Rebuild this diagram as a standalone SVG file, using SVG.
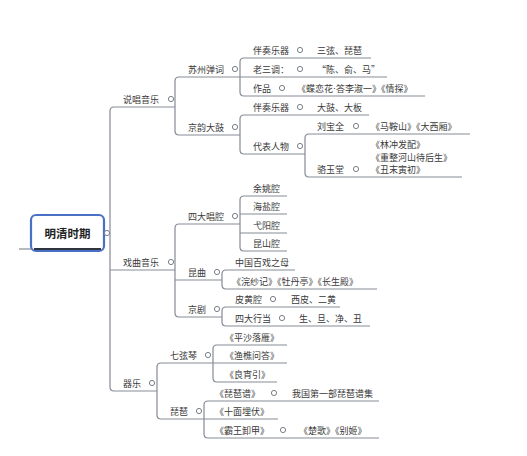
<svg xmlns="http://www.w3.org/2000/svg" width="527" height="456" viewBox="0 0 527 456">
<style>
.t{font-family:"Noto Sans CJK SC","Noto Sans",sans-serif;font-size:9px;fill:#3a3a3a;dominant-baseline:central}
.r{font-family:"Noto Sans CJK SC","Noto Sans",sans-serif;font-size:11.5px;font-weight:bold;fill:#222;dominant-baseline:central;text-anchor:middle}
.c{fill:#fff;stroke:#7a7f88;stroke-width:1}
.l{fill:none;stroke:#858b96;stroke-width:1.2}
.dot{font-family:"Liberation Sans",sans-serif}
</style>
<rect width="527" height="456" fill="#fff"/>
<g id="connectors" class="l">
<path d="M19,249 H31"/>
<path d="M110,111 Q110,107 114,107 H175 M110,270 H175 M110,387 Q110,391 114,391 H157 M110,111 V387"/>
<path d="M175,81 Q175,77 179,77 H240 M175,131 Q175,135 179,135 H240 M175,81 V131"/>
<path d="M240,62 Q240,58 244,58 H371 M240,77 H387 M240,92 Q240,96 244,96 H425 M240,62 V92"/>
<path d="M240,119 Q240,115 244,115 H369 M240,150 Q240,154 244,154 H305 M240,119 V150"/>
<path d="M305,138 Q305,134 309,134 H470 M305,173 Q305,177 309,177 H462 M305,138 V173"/>
<path d="M175,228 Q175,224 179,224 H240 M175,280 H222 M175,313 Q175,317 179,317 H222 M175,228 V313"/>
<path d="M240,200 Q240,196 244,196 H287 M240,214 H287 M240,233 H287 M240,247 Q240,251 244,251 H287 M240,200 V247"/>
<path d="M222,274 Q222,270 226,270 H295 M222,285 Q222,289 226,289 H377 M222,274 V285"/>
<path d="M222,311 Q222,307 226,307 H340 M222,322 Q222,326 226,326 H370 M222,311 V322"/>
<path d="M157,367 Q157,363 161,363 H213 M157,415 Q157,419 161,419 H204 M157,367 V415"/>
<path d="M213,349 Q213,345 217,345 H287 M213,363 H287 M213,378 Q213,382 217,382 H277 M213,349 V378"/>
<path d="M204,405 Q204,401 208,401 H379 M204,419 H278 M204,434 Q204,438 208,438 H379 M204,405 V434"/>
</g>
<g id="root">
<rect x="31" y="215" width="73" height="36" rx="5" fill="#fff" stroke="#4a70c6" stroke-width="2.2"/>
<path d="M34,249 H101" stroke="#2e3440" stroke-width="2"/>
<text class="r" x="67.5" y="233">明清时期</text>
<circle class="c" cx="107" cy="233" r="2.6"/>
</g>
<g id="shuochang"><text class="t" x="123" y="99">说唱音乐</text><circle class="c" cx="171" cy="99" r="2.6"/></g>
<g id="xiqu"><text class="t" x="123" y="262">戏曲音乐</text><circle class="c" cx="171" cy="262" r="2.6"/></g>
<g id="qiyue"><text class="t" x="123" y="383">器乐</text><circle class="c" cx="152" cy="383" r="2.6"/></g>
<g id="suzhou"><text class="t" x="188" y="69">苏州弹词</text><circle class="c" cx="235" cy="69" r="2.6"/></g>
<g id="jingyun"><text class="t" x="188" y="127">京韵大鼓</text><circle class="c" cx="235" cy="127" r="2.6"/></g>
<g id="sida"><text class="t" x="188" y="216">四大唱腔</text><circle class="c" cx="235" cy="216" r="2.6"/></g>
<g id="kunqu"><text class="t" x="188" y="272">昆曲</text><circle class="c" cx="217" cy="272" r="2.6"/></g>
<g id="jingju"><text class="t" x="188" y="309">京剧</text><circle class="c" cx="217" cy="309" r="2.6"/></g>
<g id="qixian"><text class="t" x="170" y="355">七弦琴</text><circle class="c" cx="208" cy="355" r="2.6"/></g>
<g id="pipa"><text class="t" x="170" y="411">琵琶</text><circle class="c" cx="199" cy="411" r="2.6"/></g>
<g id="s_banzou"><text class="t" x="253" y="50">伴奏乐器</text><circle class="c" cx="300" cy="50" r="2.6"/></g>
<g id="s_banzou_v"><text class="t" x="317" y="50">三弦、琵琶</text></g>
<g id="s_laosan"><text class="t" x="253" y="69">老三调：</text><circle class="c" cx="300" cy="69" r="2.6"/></g>
<g id="s_laosan_v"><text class="t" x="317" y="69">“陈、俞、马”</text></g>
<g id="s_zuopin"><text class="t" x="253" y="88">作品</text><circle class="c" cx="282" cy="88" r="2.6"/></g>
<g id="s_zuopin_v"><text class="t" x="297" y="88">《蝶恋花<tspan class="dot">·</tspan>答李淑一》《情探》</text></g>
<g id="j_banzou"><text class="t" x="253" y="107">伴奏乐器</text><circle class="c" cx="300" cy="107" r="2.6"/></g>
<g id="j_banzou_v"><text class="t" x="317" y="107">大鼓、大板</text></g>
<g id="j_daibiao"><text class="t" x="253" y="146">代表人物</text><circle class="c" cx="300" cy="146" r="2.6"/></g>
<g id="liubaoquan"><text class="t" x="317" y="126">刘宝全</text><circle class="c" cx="356" cy="126" r="2.6"/></g>
<g id="liubaoquan_v"><text class="t" x="371" y="126">《马鞍山》《大西厢》</text></g>
<g id="luoyutang"><text class="t" x="317" y="169">骆玉堂</text><circle class="c" cx="356" cy="169" r="2.6"/></g>
<g id="luoyutang_v"><text class="t" x="371" y="144">《林冲发配》</text><text class="t" x="371" y="157">《重整河山待后生》</text><text class="t" x="371" y="169">《丑末寅初》</text></g>
<g id="yuyao"><text class="t" x="253" y="188">余姚腔</text></g>
<g id="haiyan"><text class="t" x="253" y="206">海盐腔</text></g>
<g id="yiyang"><text class="t" x="253" y="225">弋阳腔</text></g>
<g id="kunshan"><text class="t" x="253" y="243">昆山腔</text></g>
<g id="baixi"><text class="t" x="235" y="262">中国百戏之母</text></g>
<g id="huansha"><text class="t" x="232" y="281">《浣纱记》《牡丹亭》《长生殿》</text></g>
<g id="pihuang"><text class="t" x="235" y="299">皮黄腔</text><circle class="c" cx="273" cy="299" r="2.6"/></g>
<g id="pihuang_v"><text class="t" x="291" y="299">西皮、二黄</text></g>
<g id="hangdang"><text class="t" x="235" y="318">四大行当</text><circle class="c" cx="282" cy="318" r="2.6"/></g>
<g id="hangdang_v"><text class="t" x="299" y="318">生、旦、净、丑</text></g>
<g id="pingsha"><text class="t" x="225" y="337">《平沙落雁》</text></g>
<g id="yuqiao"><text class="t" x="225" y="355">《渔樵问答》</text></g>
<g id="liangxiao"><text class="t" x="225" y="374">《良宵引》</text></g>
<g id="pipapu"><text class="t" x="215" y="393">《琵琶谱》</text><circle class="c" cx="274" cy="393" r="2.6"/></g>
<g id="pipapu_v"><text class="t" x="292" y="393">我国第一部琵琶谱集</text></g>
<g id="shimian"><text class="t" x="215" y="411">《十面埋伏》</text></g>
<g id="bawang"><text class="t" x="215" y="430">《霸王卸甲》</text><circle class="c" cx="283" cy="430" r="2.6"/></g>
<g id="bawang_v"><text class="t" x="299" y="430">《楚歌》《别姬》</text></g>
</svg>
